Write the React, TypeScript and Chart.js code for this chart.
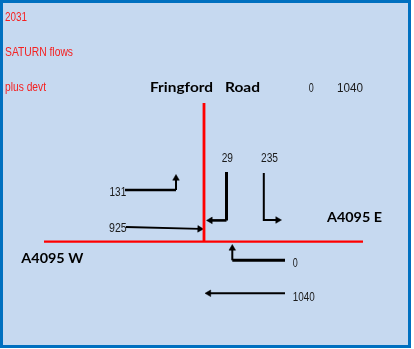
import React, { useEffect, useRef } from 'react';
import { Chart, registerables } from 'chart.js';

Chart.register(...registerables);

const W = 414;
const H = 349;

// ---- data ----
const titleLines = ['2031', 'SATURN flows', 'plus devt'];
const roadNames = ['Fringford', 'Road', 'A4095 E', 'A4095 W'];
const headerFlows = [0, 1040];
const movements = ['W-N', 'W-E', 'N-W', 'N-E', 'E-N', 'E-W'];
const flows = [131, 925, 29, 235, 0, 1040];

// ---- layout (diagram coordinates) ----
const roadLines = [
  { pts: [[204, 103], [204, 241]], width: 2.8 },
  { pts: [[44, 241.7], [363, 241.7]], width: 2.2 },
];
const arrowPaths = [
  [[125, 190], [176, 190], [176, 174.5]],
  [[126, 227], [203.5, 229]],
  [[226.5, 172], [226.5, 220.4], [206.5, 220.4]],
  [[263.8, 173], [263.8, 220], [281.5, 220]],
  [[285, 260.3], [232.3, 260.3], [232.3, 244.5]],
  [[285, 293.3], [205, 293.3]],
];
const arrowSegWidths = [[2.6, 2], [1.8], [3, 2.6], [2, 2], [3, 2], [2]];
const flowLabelPos = [[109.5, 196], [109, 231.7], [221.7, 161.7], [261, 161.7], [292.7, 266.7], [292.7, 301]];
const flowLabelW = [16.7, 17.7, 11.3, 17, 5, 22];
const titlePos = [[5, 20.7], [5, 56], [5, 90.5]];
const titleW = [22, 68, 41];
const roadPos = [[150, 92], [225, 92], [327, 221.7], [21.3, 263]];
const roadW = [63, 35, 55, 62];
const headerPos = [[308.7, 91.7], [337, 91.7]];
const headerW = [5, 26];

const HEAD_R = 3.8;

function buildArrowDataset(path: number[][], widths: number[], label: string) {
  const pts = path.map(p => ({ x: p[0], y: p[1] }));
  const n = pts.length;
  const a = pts[n - 2];
  const b = pts[n - 1];
  const dx = b.x - a.x;
  const dy = b.y - a.y;
  const len = Math.hypot(dx, dy);
  const ux = dx / len;
  const uy = dy / len;
  pts[n - 1] = { x: b.x - ux * HEAD_R, y: b.y - uy * HEAD_R };
  const rot = (Math.atan2(ux, -uy) * 180) / Math.PI;
  return {
    label,
    data: pts,
    showLine: true,
    borderColor: '#000000',
    backgroundColor: '#000000',
    borderWidth: widths[0],
    segment: { borderWidth: (ctx: any) => widths[ctx.p0DataIndex] ?? widths[0] },
    pointRadius: pts.map((_, i) => (i === n - 1 ? HEAD_R : 0)),
    pointStyle: 'triangle',
    rotation: rot,
    pointBorderWidth: 0.5,
    pointBorderColor: '#000000',
    pointBackgroundColor: '#000000',
    tension: 0,
    clip: false as any,
  };
}

function drawText(ctx: CanvasRenderingContext2D, text: string, x: number, y: number, font: string, color: string, width?: number) {
  ctx.save();
  ctx.font = font;
  ctx.fillStyle = color;
  ctx.textBaseline = 'alphabetic';
  ctx.textAlign = 'left';
  const m = ctx.measureText(text).width || 1;
  const sx = width ? width / m : 1;
  ctx.translate(x, y);
  ctx.scale(sx, 1);
  ctx.fillText(text, 0, 0);
  ctx.restore();
}

const diagramPlugin = {
  id: 'diagram',
  beforeDraw(chart: any) {
    const ctx: CanvasRenderingContext2D = chart.ctx;
    ctx.save();
    ctx.fillStyle = '#ffffff';
    ctx.fillRect(0, 0, W, H);
    ctx.fillStyle = '#C6D9F0';
    ctx.fillRect(0, 0, 411, 348);
    ctx.strokeStyle = '#0070C0';
    ctx.lineWidth = 3;
    ctx.strokeRect(1.5, 1.5, 408, 345);
    ctx.restore();
  },
  afterDraw(chart: any) {
    const ctx: CanvasRenderingContext2D = chart.ctx;
    const xs = chart.scales.x;
    const ys = chart.scales.y;
    const px = (v: number) => xs.getPixelForValue(v);
    const py = (v: number) => ys.getPixelForValue(v);
    const small = '13px "Liberation Sans", Arial, sans-serif';
    const bold = 'bold 14px Lato, "Open Sans", sans-serif';
    titleLines.forEach((t, i) => drawText(ctx, t, px(titlePos[i][0]), py(titlePos[i][1]), small, '#F52020', titleW[i]));
    roadNames.forEach((t, i) => drawText(ctx, t, px(roadPos[i][0]), py(roadPos[i][1]), bold, '#000000', roadW[i]));
    headerFlows.forEach((v, i) => drawText(ctx, String(v), px(headerPos[i][0]), py(headerPos[i][1]), small, '#1a1a1a', headerW[i]));
    flows.forEach((v, i) => drawText(ctx, String(v), px(flowLabelPos[i][0]), py(flowLabelPos[i][1]), small, '#1a1a1a', flowLabelW[i]));
  },
};

export default function App() {
  const ref = useRef<HTMLCanvasElement | null>(null);
  useEffect(() => {
    if (!ref.current) return;
    const datasets: any[] = [];
    roadLines.forEach((r, i) => {
      datasets.push({
        label: 'road' + i,
        data: r.pts.map(p => ({ x: p[0], y: p[1] })),
        showLine: true,
        borderColor: '#FF0000',
        borderWidth: r.width,
        pointRadius: 0,
        tension: 0,
        clip: false,
      });
    });
    arrowPaths.forEach((p, i) => datasets.push(buildArrowDataset(p, arrowSegWidths[i], movements[i])));
    const chart = new Chart(ref.current, {
      type: 'scatter',
      data: { datasets },
      options: {
        responsive: false,
        animation: false,
        devicePixelRatio: 1,
        events: [],
        layout: { padding: 0, autoPadding: false },
        plugins: { legend: { display: false }, tooltip: { enabled: false } },
        scales: {
          x: { type: 'linear', min: 0, max: W, display: false },
          y: { type: 'linear', min: 0, max: H, reverse: true, display: false },
        },
      },
      plugins: [diagramPlugin],
    } as any);
    return () => chart.destroy();
  }, []);
  return (
    <div style={{ position: 'fixed', left: 0, top: 0, width: W, height: H }}>
      <canvas ref={ref} width={W} height={H} style={{ display: 'block', width: W, height: H }} />
    </div>
  );
}
